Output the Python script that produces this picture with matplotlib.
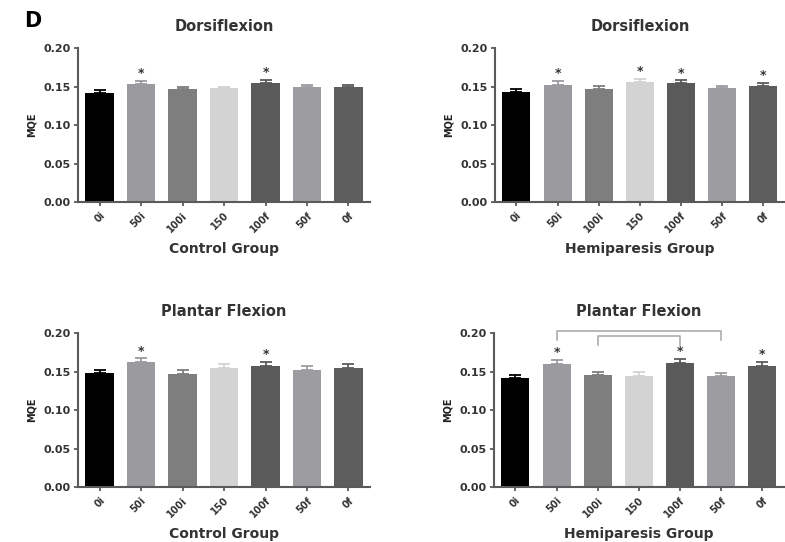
import matplotlib.pyplot as plt
import numpy as np

plt.rcParams['font.family'] = ['DejaVu Sans']
plt.rcParams['font.weight'] = 'bold'

# conditions along the x axis
labels = ['0i', '50i', '100i', '150', '100f', '50f', '0f']
bar_colors = ['#000000', '#9b9b9f', '#7e7e7e', '#d3d3d3', '#5a5a5a', '#9d9da1', '#5d5d5d']

# mean MQE and SEM per condition
ctrl_dorsi = [0.141, 0.153, 0.147, 0.148, 0.155, 0.149, 0.149]
ctrl_dorsi_err = [0.004, 0.004, 0.003, 0.001, 0.004, 0.003, 0.003]
hemi_dorsi = [0.143, 0.152, 0.147, 0.156, 0.154, 0.148, 0.151]
hemi_dorsi_err = [0.004, 0.005, 0.004, 0.004, 0.004, 0.003, 0.004]
ctrl_plantar = [0.148, 0.162, 0.147, 0.154, 0.157, 0.152, 0.155]
ctrl_plantar_err = [0.004, 0.005, 0.005, 0.006, 0.006, 0.005, 0.005]
hemi_plantar = [0.142, 0.160, 0.146, 0.144, 0.161, 0.144, 0.157]
hemi_plantar_err = [0.003, 0.005, 0.004, 0.005, 0.005, 0.004, 0.006]

# significant conditions (star markers)
ctrl_dorsi_sig = [1, 4]
hemi_dorsi_sig = [1, 3, 4, 6]
ctrl_plantar_sig = [1, 4]
hemi_plantar_sig = [1, 4, 6]

# comparison brackets: (start, end, top y, leg bottom y)
hemi_plantar_brackets = [(1, 5, 0.203, 0.191), (2, 4, 0.196, 0.184)]

fig = plt.figure(figsize=(7.85, 5.42), dpi=100)
axcol = '#5a5a5a'
txtcol = '#333333'


def panel(rect, vals, errs, sig, title, xlabel, brackets=()):
    ax = fig.add_axes(rect)
    x = np.arange(len(labels))
    ax.bar(x, vals, width=0.68, color=bar_colors, zorder=2)
    for i in range(len(x)):
        ax.errorbar(x[i], vals[i], yerr=[[0], [errs[i]]], color=bar_colors[i],
                    capsize=4, elinewidth=1.3, capthick=1.3, zorder=1)
    for i in sig:
        ax.text(x[i], vals[i] + errs[i] + 0.001, '*', ha='center', va='bottom',
                fontsize=9, fontweight='bold', color='#333333')
    for a, b, ytop, ybot in brackets:
        ax.plot([a, a, b, b], [ybot, ytop, ytop, ybot], color='#adadad', lw=1.2,
                clip_on=False)
    ax.set_xlim(-0.52, 6.52)
    ax.set_ylim(0, 0.20)
    ax.set_yticks([0, 0.05, 0.10, 0.15, 0.20])
    ax.set_yticklabels(['0.00', '0.05', '0.10', '0.15', '0.20'])
    ax.set_xticks(x)
    ax.set_xticklabels(labels, rotation=45, ha='right', rotation_mode='anchor')
    for s in ['top', 'right']:
        ax.spines[s].set_visible(False)
    for s in ['left', 'bottom']:
        ax.spines[s].set_color(axcol)
        ax.spines[s].set_linewidth(1.5)
    ax.tick_params(colors=axcol, labelcolor=txtcol, width=1.3, length=3)
    ax.tick_params(axis='y', pad=2, labelsize=8)
    ax.tick_params(axis='x', pad=3, labelsize=7)
    ax.set_title(title, fontsize=10.5, fontweight='bold', color=txtcol, pad=12.5)
    ax.set_xlabel(xlabel, fontsize=10, fontweight='bold', color=txtcol, labelpad=5)
    ax.set_ylabel('MQE', fontsize=7, fontweight='bold', color='#222222', labelpad=5)
    return ax


panel([0.0994, 0.6273, 0.372, 0.284], ctrl_dorsi, ctrl_dorsi_err, ctrl_dorsi_sig,
      'Dorsiflexion', 'Control Group')
panel([0.6306, 0.6273, 0.369, 0.284], hemi_dorsi, hemi_dorsi_err, hemi_dorsi_sig,
      'Dorsiflexion', 'Hemiparesis Group')
panel([0.0994, 0.1015, 0.372, 0.284], ctrl_plantar, ctrl_plantar_err, ctrl_plantar_sig,
      'Plantar Flexion', 'Control Group')
panel([0.6293, 0.1015, 0.369, 0.284], hemi_plantar, hemi_plantar_err, hemi_plantar_sig,
      'Plantar Flexion', 'Hemiparesis Group', hemi_plantar_brackets)

fig.text(0.031, 0.979, 'D', fontsize=15, fontweight='bold', va='top', ha='left')

fig.savefig('out.png', dpi=100)
